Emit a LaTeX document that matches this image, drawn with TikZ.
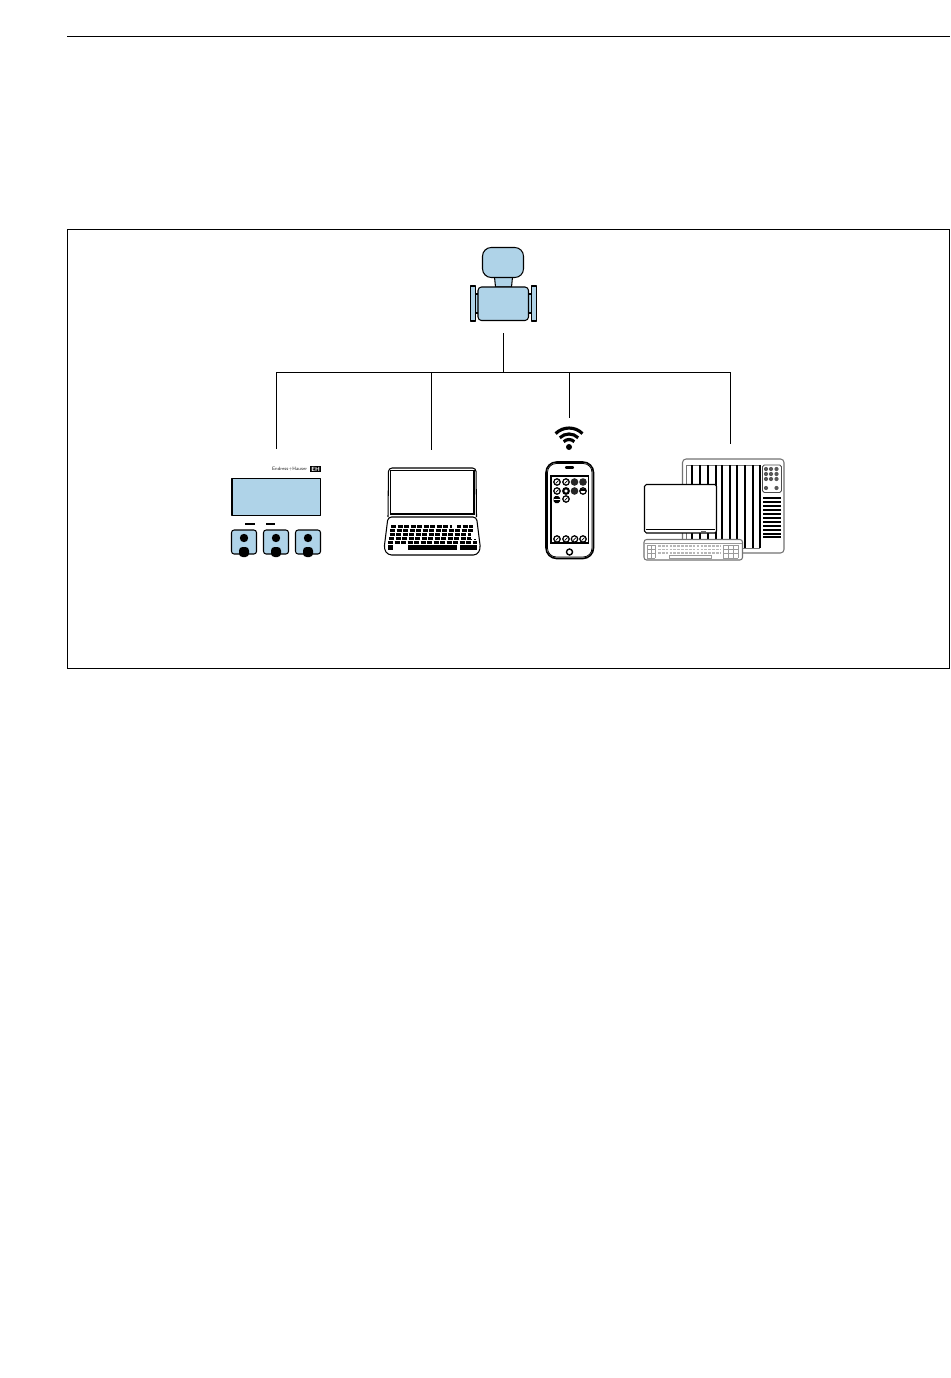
\documentclass[tikz,border=0pt]{standalone}
\usepackage{tikz}
\definecolor{meterblue}{HTML}{AFD3E8}
\definecolor{keygrey}{HTML}{9A9A9A}
\tikzset{
  thinline/.style={draw=black,line width=0.45pt},
  device/.style={draw=black,line width=0.6pt,line join=round},
  bluepart/.style={device,fill=meterblue},
  wifiarc/.style={line width=1.8pt,line cap=butt},
  keyrow/.style={line width=2pt,dash pattern=on 3pt off 0.7pt},
}
\begin{document}
\begin{tikzpicture}[x=0.02cm,y=-0.02cm]
\useasboundingbox (0,0) rectangle (950,1378);
\coordinate (ruleL) at (67,36);
\coordinate (ruleR) at (950,36);
\draw[thinline] (ruleL)--(ruleR);
\draw[thinline] (67.5,229.5) rectangle (949,668.5);

% measuring device
\draw[bluepart] (470.5,286) rectangle (475.5,321);
\draw[bluepart] (531.5,286) rectangle (536.5,321);
\draw[bluepart] (475.5,294) rectangle (479,313);
\draw[bluepart] (528,294) rectangle (531.5,313);
\draw[bluepart] (494.5,277) -- (495.5,287) -- (511.5,287) -- (512.5,277) -- cycle;
\draw[bluepart,rounded corners=5pt] (482.5,247.5) rectangle (523.5,277.5);
\draw[bluepart,rounded corners=2pt] (478,287) rectangle (528.5,320.5);

% connectors
\coordinate (meter) at (503,333);
\coordinate (bus) at (503,372);
\coordinate (busL) at (276,372);
\coordinate (busR) at (730.5,372);
\coordinate (busB) at (431,372);
\coordinate (busC) at (569.5,372);
\coordinate (display) at (276,449);
\coordinate (laptop) at (431,450);
\coordinate (phone) at (569.5,418);
\coordinate (dcs) at (730.5,444);
\draw[thinline] (meter)--(bus);
\draw[thinline] (display)--(busL)--(busR)--(dcs);
\draw[thinline] (busB)--(laptop);
\draw[thinline] (busC)--(phone);

% local display
\node[inner sep=0pt,anchor=east,text=black!85] (brand) at (307.5,469) {\fontsize{2.75}{3}\selectfont\sffamily Endress+Hauser};
\node[inner sep=0.6pt,anchor=west,fill=black,text=white] (logo) at (310,469) {\fontsize{3.4}{3}\selectfont\sffamily\bfseries EH};
\draw[bluepart] (232,478.5) rectangle (320.5,515.5);
\draw[line width=0.6pt] (245,524)--(255,524);
\draw[line width=0.6pt] (266,524)--(275,524);
\foreach \bx in {231.5,263.5,295.5}{
  \draw[bluepart,rounded corners=1.5pt] (\bx,530) rectangle ++(25,24);
  \fill (\bx+12.5,538) circle (4.2);
  \fill[rounded corners=2pt] (\bx+7.5,547) rectangle (\bx+17.5,557);
}

% laptop
\draw[device,fill=white,rounded corners=2pt] (388,517) -- (388.5,468) -- (476,468) -- (476.5,517);
\draw[line width=0.9pt] (390.5,470.5) rectangle (474,514);
\draw[device,fill=white,rounded corners=2pt] (388,517) -- (476.5,517) -- (480.5,549) -- (477,555) -- (388,555) -- (384,549) -- cycle;
\draw[keyrow] (391,526.5)--(473,526.5);
\draw[keyrow] (390,530.5)--(474,530.5);
\draw[keyrow] (389.5,534.5)--(475,534.5);
\draw[keyrow] (389,538.5)--(476,538.5);
\draw[keyrow] (388,542.5)--(477,542.5);
\fill (408,544.5) rectangle (457,549.5);
\fill (388,544.5) rectangle (393,549.5);
\fill (460,544.5) rectangle (477,549.5);
\fill[white] (452,525) rectangle (457,529);
\fill[white] (471,533) rectangle (476,539);

% wifi
\fill (569,447) circle (3);
\draw[wifiarc] (563.7,441.7) arc[start angle=225,end angle=315,radius=7.5];
\draw[wifiarc] (559.8,437.8) arc[start angle=225,end angle=315,radius=13];
\draw[wifiarc] (555.6,433.6) arc[start angle=225,end angle=315,radius=19];

% phone
\draw[device,line width=0.9pt,rounded corners=6pt] (546,462) rectangle (593.5,558.5);
\draw[line width=0.45pt,rounded corners=5pt] (547.5,463.5) rectangle (592,557);
\draw[line width=0.6pt] (551,476) rectangle (588.5,543);
\draw[line width=1.3pt,line cap=round] (566,467.5)--(573,467.5);
\draw[line width=0.8pt] (569.5,552) circle (3);
\fill (545,480) rectangle (546,490);
\fill (593,480) rectangle (594,490);
\foreach \ix/\iy in {557/482,566/482,557/491,566/499,557/539,566/539,574.5/539,583/539}{
  \draw[line width=0.7pt] (\ix,\iy) circle (3.2);
  \draw[line width=0.4pt] (\ix-1.5,\iy+1.5)--(\ix+1.5,\iy-1.5);
}
\foreach \ix/\iy in {574.5/482,583/482,574.5/491}{
  \fill[black!85] (\ix,\iy) circle (3.8);
}
\draw[line width=1.2pt] (566,491) circle (2.8);
\draw[line width=0.7pt] (583,491) circle (3.2);
\fill (580,488.5) rectangle (586,490.5);
\fill[rounded corners=1pt] (553.5,496) rectangle (560,503);
\draw[white,line width=0.4pt] (553.5,499.5)--(560,499.5);

% control system
\draw[device,fill=white,rounded corners=2pt,draw=black!55] (682.5,459) rectangle (784,553);
\draw[black!55,line width=0.45pt] (686,553)--(686,465)--(760,465);
\foreach \sx in {692,700,708,716,722,730,737,745,753,760}{
  \draw[line width=0.6pt] (\sx,465)--(\sx,548);
}
\draw[black!55,line width=0.3pt] (692,548)--(760,548);
\draw[device,rounded corners=1pt,line width=0.45pt,draw=black!70] (762.5,465) rectangle (781.5,492.5);
\foreach \dy in {469,474,479}{
  \foreach \dx in {766,771,776.5}{
    \fill[black!65] (\dx,\dy) circle (2.1);
  }
}
\fill[black!65] (766,488) circle (2.1);
\fill[black!65] (776.5,488) circle (2.1);
\foreach \gy in {498,502,506,510,514,518,522,526,530,534,537}{
  \draw[line width=0.8pt] (763,\gy)--(781,\gy);
}
\draw[device,fill=white,rounded corners=1pt] (644.5,484.5) rectangle (716.5,533);
\draw[line width=0.45pt] (646,529)--(715,529);
\fill[black!60] (701,530.5) rectangle (706,531.5);
\draw[device,fill=white,rounded corners=1.5pt,draw=black!55] (644,539.5) rectangle (742.5,560);
\draw[keygrey,line width=0.3pt] (645,543)--(742,543);
\foreach \kx in {647,651,655}{
  \draw[keygrey,line width=0.3pt] (\kx,545)--(\kx,558);
}
\foreach \ky in {545,549,553,558}{
  \draw[keygrey,line width=0.3pt] (647,\ky)--(655,\ky);
  \draw[keygrey,line width=0.3pt] (723,\ky)--(738,\ky);
}
\foreach \kx in {723,728,733,738}{
  \draw[keygrey,line width=0.3pt] (\kx,545)--(\kx,558);
}
\foreach \ky in {546,549.5,553}{
  \draw[keygrey!70,line width=1pt,dash pattern=on 1.5pt off 0.7pt] (658,\ky)--(720,\ky);
}
\draw[keygrey,line width=0.3pt] (669,558) rectangle (711,555);
\end{tikzpicture}
\end{document}
